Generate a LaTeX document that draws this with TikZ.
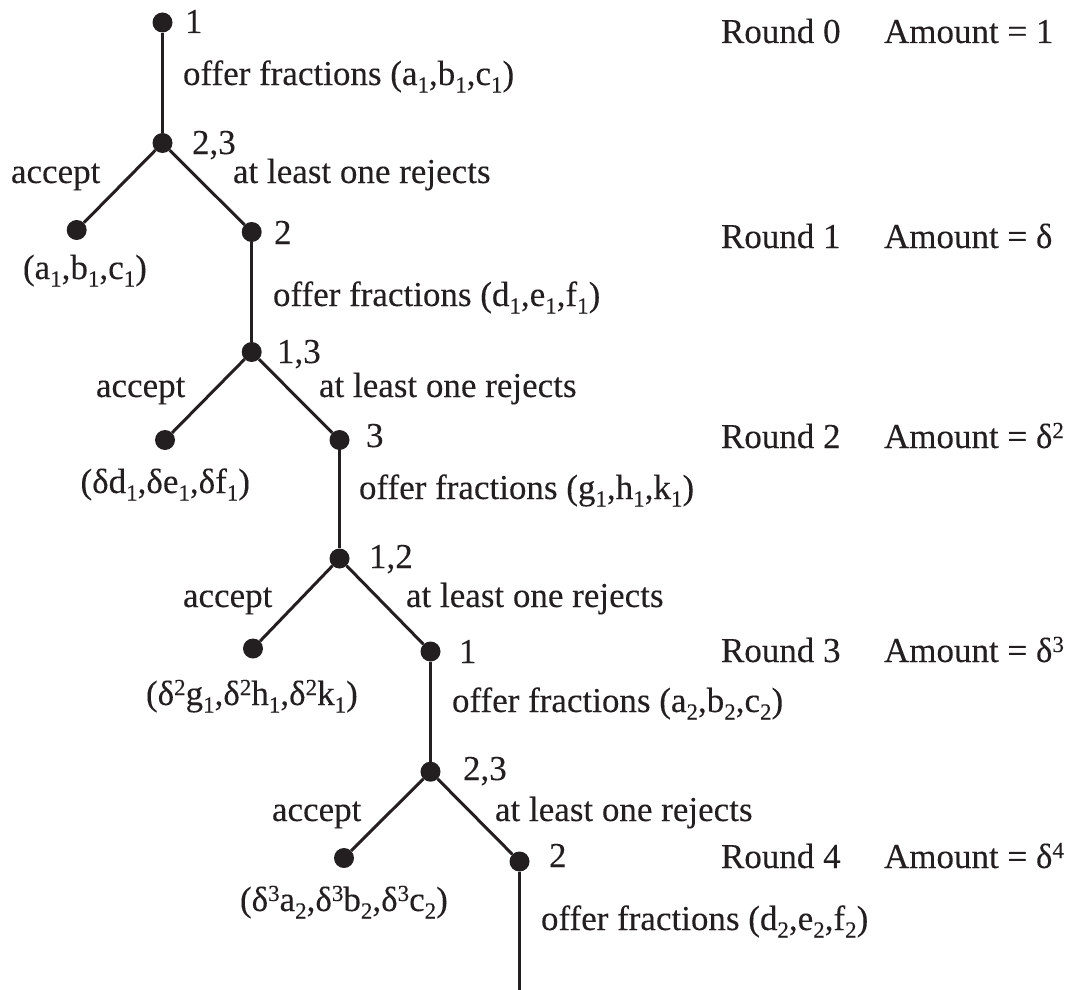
\documentclass[tikz,border=0pt]{standalone}
\usepackage{fontspec}
\setmainfont{Liberation Serif}
\newfontfamily\heavyfont[FakeBold=0.15]{Liberation Serif}
\definecolor{ink}{HTML}{231F20}
\newcommand\lo[1]{\raisebox{-7.5pt}{\fontsize{23}{23}\selectfont #1}}
\newcommand\up[1]{\raisebox{10pt}{\fontsize{23}{23}\selectfont #1}}
\begin{document}
\begin{tikzpicture}[x=1pt,y=-1pt,
  dot/.style={circle,fill=ink,inner sep=0pt,minimum size=20pt},
  txt/.style={anchor=base west,inner sep=0pt,outer sep=0pt,text=ink,font=\heavyfont\fontsize{35}{42}\selectfont\addfontfeature{FakeBold=0.15}},
  txte/.style={txt,anchor=base east},
  edge/.style={draw=ink,line width=3pt}]
\useasboundingbox (0,0) rectangle (1074,990);
% dots
\node[dot] (A) at (162.5,22.5) {};
\node[dot] (B) at (162.5,143) {};
\node[dot] (C) at (76.7,230) {};
\node[dot] (D) at (251.7,232) {};
\node[dot] (E) at (251.7,352) {};
\node[dot] (F) at (165,440) {};
\node[dot] (G) at (339.5,440) {};
\node[dot] (H) at (339.5,558.5) {};
\node[dot] (I) at (253,648.5) {};
\node[dot] (J) at (430.5,651.5) {};
\node[dot] (K) at (430.5,771.7) {};
\node[dot] (L) at (344,858) {};
\node[dot] (M) at (519.5,861.5) {};
\coordinate (Z) at (519.5,992);
% edges
\draw[edge] (A) -- (B);
\draw[edge] (B) -- (C);
\draw[edge] (B) -- (D);
\draw[edge] (D) -- (E);
\draw[edge] (E) -- (F);
\draw[edge] (E) -- (G);
\draw[edge] (G) -- (H);
\draw[edge] (H) -- (I);
\draw[edge] (H) -- (J);
\draw[edge] (J) -- (K);
\draw[edge] (K) -- (L);
\draw[edge] (K) -- (M);
\draw[edge] (M) -- (Z);
% level 0
\node[txt] (lA) at (185,33) {1};
\node[txt] (oA) at (183,85) {offer fractions (a\lo{1},b\lo{1},c\lo{1})};
\node[txt] (lB) at (192,154) {2,3};
\node[txt] (aB) at (11,183) {accept};
\node[txt] (rB) at (233,183) {at least one rejects};
\node[txt] (lD) at (274,244) {2};
\node[txt] (pC) at (23,279) {(a\lo{1},b\lo{1},c\lo{1})};
% level 1
\node[txt] (oD) at (273,306) {offer fractions (d\lo{1},e\lo{1},f\lo{1})};
\node[txt] (lE) at (277,363) {1,3};
\node[txt] (aE) at (96,397) {accept};
\node[txt] (rE) at (319,397) {at least one rejects};
\node[txt] (lG) at (366,447) {3};
\node[txte] (pF) at (250,493) {(δd\lo{1},δe\lo{1},δf\lo{1})};
% level 2
\node[txt] (oG) at (359,499) {offer fractions (g\lo{1},h\lo{1},k\lo{1})};
\node[txt] (lH) at (369,568) {1,2};
\node[txt] (aH) at (183,607) {accept};
\node[txt] (rH) at (406,607) {at least one rejects};
\node[txt] (lJ) at (459,663) {1};
\node[txt] (pI) at (146,705) {(δ\up{2}g\lo{1},δ\up{2}h\lo{1},δ\up{2}k\lo{1})};
% level 3
\node[txt] (oJ) at (452,712) {offer fractions (a\lo{2},b\lo{2},c\lo{2})};
\node[txt] (lK) at (463,780) {2,3};
\node[txt] (aK) at (272,821) {accept};
\node[txt] (rK) at (495,821) {at least one rejects};
\node[txt] (lM) at (549,867) {2};
\node[txt] (pL) at (240,911) {(δ\up{3}a\lo{2},δ\up{3}b\lo{2},δ\up{3}c\lo{2})};
% level 4
\node[txt] (oM) at (541,930) {offer fractions (d\lo{2},e\lo{2},f\lo{2})};
% rounds
\node[txt] (r0) at (721,43) {Round 0};
\node[txt] (m0) at (884,43) {Amount = 1};
\node[txt] (r1) at (721,248) {Round 1};
\node[txt] (m1) at (884,248) {Amount = δ};
\node[txt] (r2) at (721,448) {Round 2};
\node[txt] (m2) at (884,448) {Amount = δ\up{2}};
\node[txt] (r3) at (721,662) {Round 3};
\node[txt] (m3) at (884,662) {Amount = δ\up{3}};
\node[txt] (r4) at (721,868) {Round 4};
\node[txt] (m4) at (884,868) {Amount = δ\up{4}};
\end{tikzpicture}
\end{document}
